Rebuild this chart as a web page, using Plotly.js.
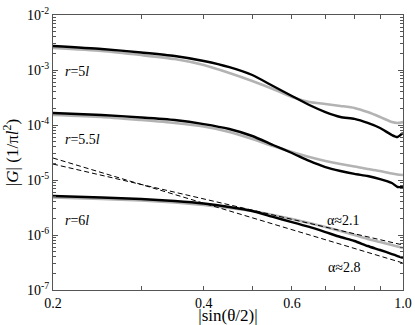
<!DOCTYPE html>
<html>
<head>
<meta charset="utf-8">
<script src="https://cdn.plot.ly/plotly-3.0.1.min.js"></script>
<style>
  body { margin: 0; background: #fff; }
  #plot { width: 415px; height: 325px; }
</style>
</head>
<body>
<div id="plot"></div>
<script>
// |sin(theta/2)| sample points
var xs = [0.2, 0.25, 0.3, 0.35, 0.4, 0.45, 0.5, 0.55, 0.6, 0.65, 0.7, 0.75, 0.8, 0.85, 0.9, 0.95, 0.975, 1.0];

// r = 5l
var r5_black = [2.73e-3, 2.41e-3, 2.08e-3, 1.80e-3, 1.46e-3, 1.13e-3, 8.11e-4, 5.12e-4, 3.37e-4, 2.31e-4, 1.72e-4, 1.40e-4, 1.29e-4, 1.09e-4, 8.82e-5, 6.58e-5, 6.05e-5, 7.15e-5];
var r5_gray  = [2.51e-3, 2.22e-3, 1.87e-3, 1.58e-3, 1.23e-3, 8.82e-4, 6.31e-4, 4.51e-4, 3.23e-4, 2.62e-4, 2.41e-4, 2.22e-4, 2.04e-4, 1.72e-4, 1.40e-4, 1.13e-4, 1.09e-4, 1.13e-4];

// r = 5.5l
var r55_black = [1.65e-4, 1.52e-4, 1.37e-4, 1.23e-4, 1.04e-4, 8.46e-5, 6.31e-5, 4.33e-5, 3.10e-5, 2.22e-5, 1.72e-5, 1.46e-5, 1.29e-5, 1.18e-5, 1.04e-5, 8.82e-6, 7.46e-6, 7.46e-6];
var r55_gray  = [1.52e-4, 1.40e-4, 1.23e-4, 1.09e-4, 9.39e-5, 7.46e-5, 5.57e-5, 4.15e-5, 3.23e-5, 2.62e-5, 2.22e-5, 1.95e-5, 1.76e-5, 1.58e-5, 1.46e-5, 1.31e-5, 1.26e-5, 1.23e-5];

// r = 6l
var r6_black = [5.12e-6, 4.81e-6, 4.51e-6, 4.15e-6, 3.74e-6, 3.23e-6, 2.73e-6, 2.13e-6, 1.72e-6, 1.40e-6, 1.13e-6, 9.20e-7, 7.78e-7, 6.31e-7, 5.34e-7, 4.51e-7, 4.15e-7, 3.82e-7];
var r6_gray  = [4.81e-6, 4.51e-6, 4.24e-6, 3.90e-6, 3.51e-6, 3.10e-6, 2.73e-6, 2.31e-6, 1.95e-6, 1.65e-6, 1.40e-6, 1.18e-6, 1.00e-6, 8.46e-7, 7.46e-7, 6.58e-7, 6.18e-7, 5.80e-7];

// power-law guides (end points)
var fit_x = [0.2, 1.0];
var fit21 = [1.95e-5, 6.58e-7];
var fit28 = [2.51e-5, 3.10e-7];

var xtickvals = [0.2, 0.3, 0.4, 0.5, 0.6, 0.7, 0.8, 0.9, 1.0];
var xticktext = ['0.2', '', '0.4', '', '0.6', '', '', '', '1.0'];
var ytickvals = [1e-7, 1e-6, 1e-5, 1e-4, 1e-3, 1e-2];
var yticktext = ['10<sup>-7</sup>', '10<sup>-6</sup>', '10<sup>-5</sup>', '10<sup>-4</sup>', '10<sup>-3</sup>', '10<sup>-2</sup>'];

var grayLine = {color: '#b3b3b3', width: 2.6, shape: 'spline', smoothing: 0.6};
var blackLine = {color: '#000', width: 2.4, shape: 'spline', smoothing: 0.6};
var dashLine = {color: '#000', width: 1, dash: '5px,3px'};

function curve(y, line) {
  return {x: xs, y: y, type: 'scatter', mode: 'lines', line: line, hoverinfo: 'skip'};
}

var data = [
  curve(r5_gray, grayLine), curve(r5_black, blackLine),
  curve(r55_gray, grayLine), curve(r55_black, blackLine),
  curve(r6_gray, grayLine), curve(r6_black, blackLine),
  {x: fit_x, y: fit21, type: 'scatter', mode: 'lines', line: dashLine},
  {x: fit_x, y: fit28, type: 'scatter', mode: 'lines', line: dashLine}
];

var serif = 'Liberation Serif';
var tickFont = {family: 'Times New Roman', size: 14, color: '#000'};

function label(x, y, text) {
  return {xref: 'paper', yref: 'paper', x: x, y: y, xanchor: 'left', yanchor: 'middle',
          showarrow: false, text: text};
}

var layout = {
  width: 415, height: 325,
  margin: {l: 53, r: 12, t: 15, b: 35},
  showlegend: false,
  paper_bgcolor: '#fff', plot_bgcolor: '#fff',
  font: {family: serif, size: 14, color: '#000'},
  xaxis: {
    type: 'log', range: [Math.log10(0.2), 0],
    tickvals: xtickvals, ticktext: xticktext,
    ticks: 'inside', ticklen: 4, tickcolor: '#555',
    tickfont: tickFont,
    showline: true, linecolor: '#555', linewidth: 1, mirror: 'ticks',
    showgrid: false, zeroline: false,
    title: {text: '|sin(\u03b8/2)|', standoff: 6}
  },
  yaxis: {
    type: 'log', range: [-7, -2],
    tickvals: ytickvals, ticktext: yticktext,
    ticks: 'inside', ticklen: 5, tickcolor: '#555',
    tickfont: tickFont,
    minor: {ticks: 'inside', ticklen: 3, tickcolor: '#555', dtick: 'D1', showgrid: false},
    showline: true, linecolor: '#555', linewidth: 1, mirror: 'ticks',
    showgrid: false, zeroline: false,
    title: {text: '|<i>G</i>| (1/\u03c0<i>l</i><sup>2</sup>)', standoff: 4}
  },
  annotations: [
    label(0.029, 0.796, '<i>r</i>=5<i>l</i>'),
    label(0.029, 0.549, '<i>r</i>=5.5<i>l</i>'),
    label(0.029, 0.2545, '<i>r</i>=6<i>l</i>'),
    label(0.777, 0.2545, '\u03b1\u22482.1'),
    label(0.78, 0.0836, '\u03b1\u22482.8')
  ]
};

Plotly.newPlot('plot', data, layout, {staticPlot: true});
</script>
</body>
</html>
